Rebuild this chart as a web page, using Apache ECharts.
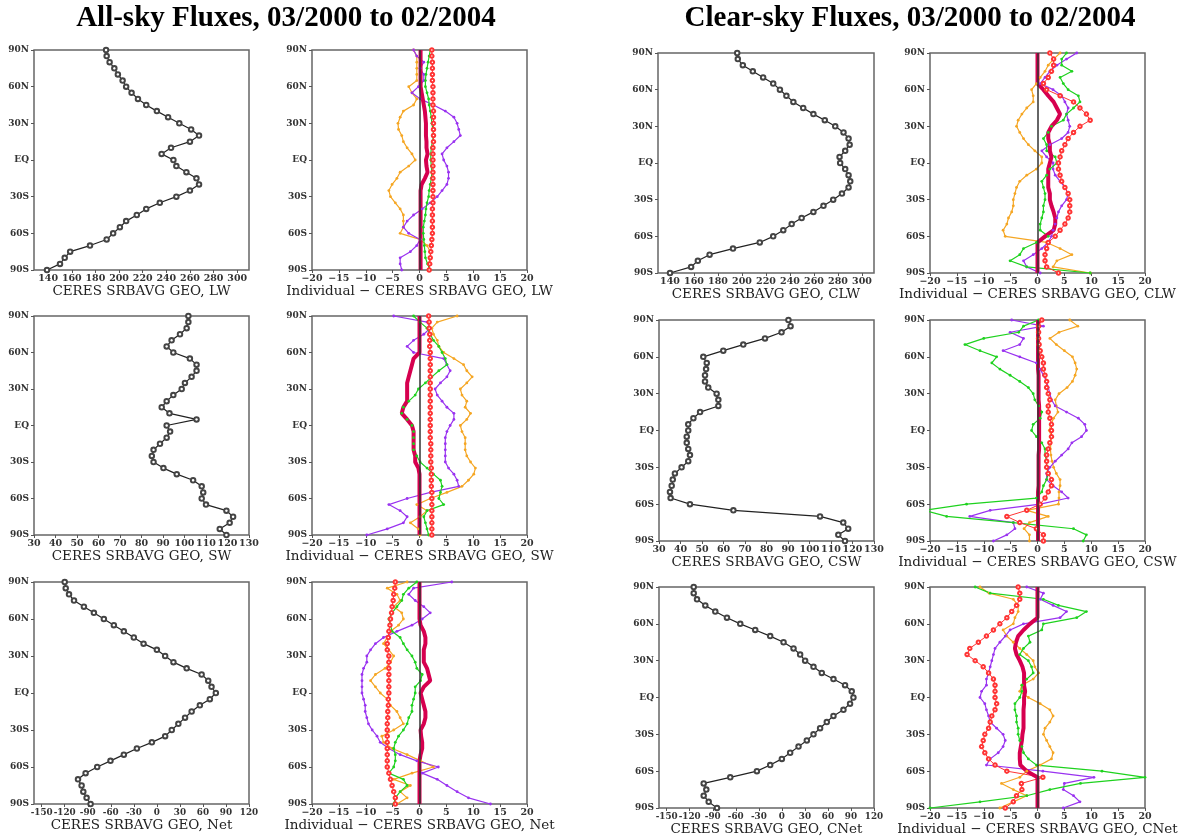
<!DOCTYPE html>
<html lang="en">
<head>
<meta charset="UTF-8">
<title>CERES SRBAVG GEO zonal fluxes</title>
<script src="https://cdn.jsdelivr.net/npm/echarts@6/dist/echarts.min.js"></script>
<style>
  html, body { margin: 0; padding: 0; background: #fff; }
  #chart { width: 1189px; height: 838px; }
</style>
</head>
<body>
<div id="chart"></div>
<script>
// latitude (north to south, 5 degree steps)
var lat = [90,85,80,75,70,65,60,55,50,45,40,35,30,25,20,15,10,5,0,-5,-10,-15,-20,-25,-30,-35,-40,-45,-50,-55,-60,-65,-70,-75,-80,-85,-90];

// tick labels
var latTicks = [-90,-60,-30,0,30,60,90];
var lwTicks = [140,160,180,200,220,240,260,280,300];
var swTicks = [30,40,50,60,70,80,90,100,110,120,130];
var netTicks = [-150,-120,-90,-60,-30,0,30,60,90,120];
var diffTicks = [-20,-15,-10,-5,0,5,10,15,20];

// CERES SRBAVG GEO zonal means (W m-2)
var lwAll  = [189,189.5,192,196,199,203,206,210.6,216,223,232,241.5,251,261,267.7,260,244,236,246,248.5,257,265.5,267.7,260,248.5,234.5,223,215,206,200.7,195,189.5,175.4,158.6,154,150,139];
var lwClr  = [196,196.5,200.7,209,217.6,226,231.6,237,242.8,251,259.5,269,277.7,284.6,288.8,289.7,286,281.3,281.8,286,288.8,290.2,288.8,283.3,276,267.9,259.5,249.7,241.4,234.4,226,214.8,192.5,173,163.2,157.6,140];
var swAll  = [101.8,101.8,101,97.9,94,91.7,94.8,102.5,105.6,105.6,103.3,100.2,98.7,94.8,91.7,89.4,93,105.6,91.7,93.3,91.7,88.6,85.6,84.8,85.6,90.2,96.4,104,108,108.7,108,110,119.5,122.6,121,116.4,119.5];
var swClr  = [90.2,91.2,87,79.3,69.2,59.9,50.6,52.2,51.9,51.4,51.4,52.9,56.8,57.6,57.6,49.1,46,43.6,43.6,42.9,42.9,43.6,44.4,43.6,40.5,37.4,36.4,35.9,35.1,35.4,44.4,64.6,104.9,115.7,118,113.4,116.5];
var netAll = [-120,-118.7,-114.4,-107.9,-95,-82,-69,-56,-43,-30,-17.3,0,10.8,21.6,38.8,58.3,66.9,71.2,76.8,69,56,45.3,36.7,28,19.4,10.8,-6.5,-26,-43,-60.4,-77.7,-92.8,-102.7,-98,-95.8,-91.5,-86.3];
var netClr = [-114.8,-114.8,-110.5,-99.7,-86.7,-71.5,-54.2,-34.7,-15.2,2.2,15.2,23.8,30.3,41.2,52,67.2,82.3,91,93.2,88.8,80.2,67.2,58.5,49.8,41.2,32.5,21.7,10.8,0,-15.2,-32.5,-67.2,-101.8,-98.4,-101.8,-95.3,-84.5];

// individual - CERES differences, all-sky
var lwOrange  = [-1.1,-0.5,-0.5,-0.5,-0.5,-0.5,-2.0,-1.4,-0.5,-1.1,-3.0,-3.6,-4.0,-3.9,-3.3,-3.0,-2.3,-1.4,-0.8,-2.0,-3.6,-4.2,-5.1,-5.7,-5.4,-4.5,-3.6,-3.0,-3.0,-3.0,-3.6,0.1,1.4,2.0,2.0,1.7,1.7];
var lwPurple  = [-1.1,-0.5,0.8,0.1,0.8,0.8,-0.2,-1.4,0.1,2.6,4.8,6.4,7.0,7.3,7.6,6.4,5.1,4.2,4.5,5.1,5.4,5.4,5.1,4.2,3.3,2.0,0.5,-1.1,-2.3,-3.0,-2.0,0.1,-0.5,-1.7,-3.6,-3.6,-3.3];
var lwGreen   = [2.0,1.8,1.6,1.4,1.2,1.1,1.1,1.4,1.7,1.8,2.0,2.2,2.3,2.5,2.6,2.4,2.2,2.1,2.1,2.2,2.3,2.2,2.0,1.8,1.7,1.4,1.2,1.1,0.9,0.7,0.7,0.8,0.9,1.0,1.1,1.5,2.0];
var lwRed     = [2.3,2.3,2.4,2.4,2.4,2.4,2.5,2.5,2.5,2.5,2.6,2.6,2.6,2.6,2.6,2.6,2.5,2.5,2.5,2.5,2.5,2.5,2.5,2.5,2.5,2.5,2.4,2.4,2.4,2.4,2.4,2.3,2.2,2.1,2.0,1.9,1.8];
var lwCrimson = [0.2,0.2,0.2,0.2,0.2,0.2,0.2,0.4,0.6,0.8,1.0,1.1,1.2,1.2,1.2,1.3,1.3,1.5,1.2,1.3,1.5,1.0,0.4,0.2,0.2,0.2,0.2,0.2,0.2,0.2,0.2,0.2,0.2,0.2,0.2,0.2,0.2];

var swOrange  = [7.0,3.3,2.3,2.6,3.3,3.6,4.5,6.4,8.2,8.8,9.8,8.8,7.6,7.9,8.8,8.5,9.5,8.8,7.6,7.9,8.5,8.5,8.5,8.8,9.5,10.4,10.1,9.1,7.9,5.1,2.0,-0.5,1.4,0.1,-1.7,-0.2,0.1];
var swPurple  = [-4.8,1.4,2.0,0.8,-1.1,-2.3,-1.1,4.5,5.1,5.7,5.1,3.9,2.9,3.3,4.2,5.1,6.4,6.4,5.7,5.1,4.8,4.8,4.8,4.8,4.8,5.4,6.4,7.0,7.3,2.0,-2.3,-5.7,-3.6,-2.3,-3.0,-6.0,-9.8];
var swGreen   = [-1.1,0.1,1.4,2.0,2.6,3.6,4.2,4.8,5.1,3.6,2.3,1.1,-0.2,-0.8,-2.0,-3.0,-3.3,-2.3,-1.4,-1.1,-1.1,-1.1,-1.1,-0.5,0.1,1.4,2.6,3.9,4.2,3.9,3.6,4.5,1.4,0.8,1.1,1.4,1.7];
var swRed     = [1.7,1.8,1.8,1.9,1.9,1.9,2.0,2.0,2.0,2.0,2.0,2.0,2.0,2.0,2.0,2.0,2.0,2.0,2.0,2.0,2.0,2.1,2.1,2.1,2.1,2.2,2.2,2.2,2.2,2.3,2.3,2.3,2.3,2.3,2.3,2.3,2.3];
var swCrimson = [0,0,0,0,0,0,0,-1.1,-1.4,-1.7,-2.0,-2.3,-2.3,-2.3,-2.3,-3.0,-3.3,-2.3,-1.4,-1.1,-1.1,-1.1,-1.1,-0.8,-0.8,-0.2,0,0,0,0,0,0,0,0,0,0,0];

var netOrange  = [-2.3,-6.0,-4.2,-3.6,-4.8,-3.3,-3.0,-3.9,-5.4,-6.0,-6.7,-5.7,-4.8,-5.4,-6.4,-8.2,-9.1,-8.2,-7.3,-6.0,-5.4,-4.2,-3.6,-3.0,-4.8,-7.0,-6.7,-5.1,-2.3,0.2,2.6,-1.4,-4.8,-1.7,-3.6,-2.3,-4.2];
var netPurple  = [6.0,-1.1,-2.0,-0.8,0.8,2.0,0.5,-1.4,-4.2,-6.7,-8.2,-9.1,-9.8,-9.8,-10.4,-10.7,-10.7,-10.7,-10.7,-10.4,-10.1,-10.1,-9.8,-9.5,-8.8,-7.9,-7.3,-5.7,-3.6,-0.5,3.5,0.5,3.3,5.1,7.0,9.1,13.2];
var netGreen   = [-0.5,-2.0,-3.0,-3.3,-4.2,-5.1,-5.7,-5.4,-5.1,-3.6,-3.0,-2.3,-1.4,-0.8,-0.5,0.5,0.2,-0.8,-0.8,-1.1,-1.4,-1.4,-2.0,-2.3,-3.0,-3.9,-4.5,-4.8,-4.5,-4.5,-4.8,-5.7,-3.0,-2.3,-3.6,-4.5,-4.8];
var netRed     = [-4.5,-4.6,-4.8,-4.9,-5.1,-5.2,-5.4,-5.5,-5.7,-5.8,-6.0,-6.0,-5.7,-5.7,-5.7,-5.7,-5.7,-5.7,-5.7,-5.8,-5.8,-5.9,-5.9,-6.0,-6.0,-6.0,-6.0,-6.0,-6.0,-6.0,-6.0,-5.7,-5.4,-5.1,-4.8,-4.5,-4.5];
var netCrimson = [0,0,0,0,0,0,0,0.2,0.8,1.1,1.1,0.8,0.8,0.8,1.4,1.7,2.0,0.8,0.2,0.5,0.8,1.1,1.1,0.8,0.2,0.3,0.5,0.5,0.2,0,0,0,0,0,0,0,0];

// individual - CERES differences, clear-sky
var clwOrange  = [4.2,3.0,2.0,1.4,0.5,-0.2,-1.1,-0.8,-0.8,-2.0,-2.9,-3.6,-3.9,-3.3,-2.6,-1.7,-0.5,0.8,0.8,-0.2,-2.0,-3.3,-3.9,-4.2,-4.5,-4.5,-4.8,-5.4,-5.7,-6.4,-6.0,1.7,4.2,6.4,3.6,2.9,9.8];
var clwPurple  = [7.3,5.4,3.6,2.3,1.4,0.5,2.9,4.5,5.1,5.7,5.4,5.7,6.0,5.7,4.5,2.3,0.8,1.7,2.9,2.9,3.3,4.2,5.1,5.7,5.4,4.5,3.9,3.6,3.3,2.9,2.6,2.0,0.8,-0.8,-2.6,-2.0,0.5];
var clwGreen   = [5.4,4.5,4.5,6.4,4.2,4.8,5.7,7.6,7.9,6.7,5.4,4.8,2.6,2.0,1.1,1.7,1.7,3.3,3.6,2.3,1.7,0.8,1.1,1.4,1.4,1.1,1.1,0.8,0.5,0.5,2.0,-0.2,-2.6,-3.3,-5.1,-2.0,9.8];
var clwRed     = [2.3,3.0,3.0,2.6,2.0,1.1,1.7,4.2,6.7,7.9,9.1,9.8,7.9,6.7,5.7,5.1,4.5,4.2,3.9,3.9,4.2,4.5,5.1,5.7,6.0,6.0,6.0,5.7,5.1,4.2,3.3,2.0,1.7,1.4,1.4,1.7,3.9];
var clwCrimson = [0,0,0,0,0,0,1.1,2.0,3.0,3.6,4.2,3.6,2.6,2.0,2.0,2.3,2.3,2.6,2.3,2.0,2.0,2.0,2.0,2.3,2.3,2.6,3.0,3.3,3.3,3.0,1.4,0,0,0,0,0,0];

var cswOrange  = [6.0,7.5,4.0,2.3,3.5,5.0,6.5,7.0,7.3,7.0,6.5,5.5,4.0,3.3,3.5,3.8,3.0,2.5,2.2,2.6,2.5,2.4,2.5,2.7,3.0,3.5,4.2,4.2,4.0,4.0,3.9,-2.0,2.0,-1.5,-2.5,-1.5,-1.5];
var cswPurple  = [-4.8,1.1,-5.1,-2.6,-3.3,-6.4,-3.3,-0.2,0.5,1.1,1.7,2.0,2.3,2.6,3.3,5.4,7.6,8.8,9.1,8.2,6.4,5.7,4.5,3.3,2.3,1.7,1.7,2.9,4.5,5.7,0.5,-8.8,-12.6,-4.5,-4.2,-5.7,-8.2];
var cswGreen   = [0.2,-2.6,-3.5,-10,-13.5,-10.7,-7.6,-8.5,-7.0,-5.1,-3.3,-1.7,-0.8,-0.5,0.2,0.8,0.5,-0.8,-1.1,-0.2,0.8,1.4,1.4,1.7,1.7,2.0,1.7,1.1,0.8,-0.2,-13.2,-21,-16.9,-4.5,6.7,9.1,8.5];
var cswRed     = [0.8,0.2,0.2,0.2,0.3,0.5,0.8,1.1,1.1,1.4,1.7,1.7,2.0,2.3,2.0,2.0,2.3,2.6,2.6,2.6,2.3,2.0,1.7,1.7,1.7,2.0,2.6,2.6,2.0,1.4,0.5,-2.0,-5.7,-3.3,-0.2,1.1,1.1];
var cswCrimson = [0.1,0.1,0.1,0.1,0.1,0.1,0.1,0.1,0.1,0.2,0.2,0.2,0.2,0.2,0.3,0.3,0.3,0.3,0.3,0.3,0.3,0.3,0.2,0.2,0.2,0.2,0.2,0.2,0.1,0.1,0.1,0.1,0.1,0.1,0.1,0.1,0.1];

var cnetOrange  = [-10.7,-9.0,-4.5,-3.6,-3.6,-4.2,-4.5,-6.4,-5.7,-4.5,-3.3,-2.0,-0.8,-0.5,0.2,-0.8,-2.9,-3.3,-1.7,0.5,2.3,2.9,2.3,1.4,1.1,1.7,2.3,2.9,2.6,0.5,-2.0,-3.3,-6.7,-4.5,-2.0,-4.5,-7.0];
var cnetPurple  = [-2.0,1.1,0.5,2.9,5.4,4.2,-2.6,-5.1,-6.0,-7.0,-7.9,-8.2,-8.5,-8.8,-9.1,-9.5,-9.5,-10.4,-10.7,-9.8,-9.5,-9.1,-8.8,-7.6,-6.4,-6.0,-6.4,-7.3,-8.8,-9.5,1.0,10.5,5.0,4.8,6.7,7.9,4.8];
var cnetGreen   = [-11.6,-8.8,1.1,3.9,9.1,7.3,1.1,0.8,-1.7,-1.4,-2.6,-3.3,-1.7,-1.1,-0.8,-2.0,-2.9,-2.9,-3.3,-4.2,-4.2,-3.9,-3.9,-3.6,-3.6,-3.3,-2.9,-2.6,-1.7,-0.2,12,20,8,2.3,-2.0,-10.7,-20];
var cnetRed     = [-3.6,-3.3,-3.3,-3.9,-4.8,-5.7,-7.0,-8.2,-9.5,-11,-12.6,-13.1,-11.6,-10.1,-9.1,-8.2,-7.9,-7.9,-7.9,-7.6,-7.9,-8.5,-8.8,-9.1,-9.8,-10.1,-10.4,-9.8,-9.1,-7.9,-5.7,1.0,-3.0,-2.9,-3.9,-4.5,-6.0];
var cnetCrimson = [0,0,0,0,0,0,-1.4,-2.6,-3.6,-4.0,-4.2,-3.9,-3.3,-2.8,-2.5,-2.5,-2.5,-2.3,-2.5,-2.5,-2.6,-2.6,-2.6,-2.6,-2.8,-2.9,-3.1,-3.3,-3.3,-3.2,-2.0,0,0,0,0,0,0];

var serif = '"DejaVu Serif", serif';
var colors = ['#f5a623', '#9932f0', '#1ed21e', '#ff3434', '#d6004f'];

function latLabel(v) {
    if (v === 0) return 'EQ';
    return v > 0 ? v + 'N' : (-v) + 'S';
}
function minus(v) {
    return String(v).replace('-', '\u2212');
}
function hyphen(v) {
    return String(v);
}

var panels = [
    {box: [34, 50, 215, 220],  main: lwAll,  ticks: lwTicks,  min: 128, max: 310, name: 'CERES SRBAVG GEO, LW'},
    {box: [312, 50, 215, 220], diff: [lwOrange, lwPurple, lwGreen, lwRed, lwCrimson], name: 'Individual \u2212 CERES SRBAVG GEO, LW'},
    {box: [658, 53, 216, 220], main: lwClr,  ticks: lwTicks,  min: 130, max: 310, name: 'CERES SRBAVG GEO, CLW'},
    {box: [930, 53, 215, 220], diff: [clwOrange, clwPurple, clwGreen, clwRed, clwCrimson], name: 'Individual \u2212 CERES SRBAVG GEO, CLW'},
    {box: [34, 316, 215, 219], main: swAll,  ticks: swTicks,  min: 30, max: 130, name: 'CERES SRBAVG GEO, SW'},
    {box: [312, 316, 215, 219], diff: [swOrange, swPurple, swGreen, swRed, swCrimson], name: 'Individual \u2212 CERES SRBAVG GEO, SW'},
    {box: [659, 320, 215, 221], main: swClr, ticks: swTicks,  min: 30, max: 130, name: 'CERES SRBAVG GEO, CSW'},
    {box: [930, 320, 215, 221], diff: [cswOrange, cswPurple, cswGreen, cswRed, cswCrimson], name: 'Individual \u2212 CERES SRBAVG GEO, CSW'},
    {box: [34, 582, 215, 222], main: netAll, ticks: netTicks, min: -160, max: 120, name: 'CERES SRBAVG GEO, Net', tight: true},
    {box: [312, 582, 215, 222], diff: [netOrange, netPurple, netGreen, netRed, netCrimson], name: 'Individual \u2212 CERES SRBAVG GEO, Net'},
    {box: [659, 587, 215, 221], main: netClr, ticks: netTicks, min: -160, max: 120, name: 'CERES SRBAVG GEO, CNet', tight: true},
    {box: [930, 587, 215, 221], diff: [cnetOrange, cnetPurple, cnetGreen, cnetRed, cnetCrimson], name: 'Individual \u2212 CERES SRBAVG GEO, CNet'}
];

function pairs(vals) {
    return lat.map(function (y, k) { return [vals[k], y]; });
}

var grids = [], xAxes = [], yAxes = [], series = [];

panels.forEach(function (p, i) {
    grids.push({
        left: p.box[0], top: p.box[1], width: p.box[2], height: p.box[3],
        show: true, borderColor: '#666', borderWidth: 1.5
    });
    var ticks = p.main ? p.ticks : diffTicks;
    xAxes.push({
        gridIndex: i, type: 'value', position: 'bottom',
        min: p.main ? p.min : -20, max: p.main ? p.max : 20,
        name: p.name, nameLocation: 'middle', nameGap: 14,
        nameTextStyle: {fontFamily: serif, fontSize: 13.5, color: '#222'},
        axisLine: {show: false, onZero: false},
        splitLine: {show: false},
        axisTick: {show: true, length: 3, customValues: ticks, lineStyle: {color: '#555'}},
        axisLabel: {customValues: ticks, interval: 0, margin: 4,
            formatter: p.tight ? hyphen : minus,
            showMinLabel: true, showMaxLabel: true, hideOverlap: false,
            fontFamily: serif, fontSize: p.tight ? 8.8 : 9.5, fontWeight: 'bold', color: '#333'}
    });
    yAxes.push({
        gridIndex: i, type: 'value', position: 'left', min: -90, max: 90, interval: 30,
        axisLine: {show: false, onZero: false},
        splitLine: {show: false},
        axisTick: {show: true, length: 3, lineStyle: {color: '#555'}},
        axisLabel: {formatter: latLabel, margin: 5,
            fontFamily: serif, fontSize: 9, fontWeight: 'bold', color: '#333'}
    });

    if (p.main) {
        series.push({
            type: 'line', xAxisIndex: i, yAxisIndex: i,
            data: pairs(p.main),
            symbol: 'emptyCircle', symbolSize: 4.5,
            lineStyle: {color: '#222', width: 1.2},
            itemStyle: {color: '#444', borderWidth: 1}
        });
    } else {
        p.diff.forEach(function (vals, s) {
            var ser = {
                type: 'line', xAxisIndex: i, yAxisIndex: i,
                data: pairs(vals),
                lineStyle: {color: colors[s], width: 1.2},
                itemStyle: {color: colors[s]},
                symbol: 'circle', symbolSize: 2.8
            };
            if (s === 0) {
                ser.markLine = {
                    silent: true, symbol: ['none', 'none'], label: {show: false},
                    lineStyle: {color: '#333', width: 1.5, type: 'solid'},
                    data: [{xAxis: 0}]
                };
            }
            if (s === 3) {
                ser.symbol = 'emptyCircle';
                ser.symbolSize = 3.5;
                ser.lineStyle.width = 1;
                ser.itemStyle.borderWidth = 1;
            }
            if (s === 4) {
                ser.symbol = 'none';
                ser.lineStyle.width = 4;
            }
            series.push(ser);
        });
    }
});

var chart = echarts.init(document.getElementById('chart'));
chart.setOption({
    animation: false,
    backgroundColor: '#fff',
    graphic: [
        {type: 'text', x: 286, y: 19, style: {text: 'All-sky Fluxes, 03/2000 to 02/2004',
            font: 'bold 29px "Liberation Serif", serif', fill: '#000', textAlign: 'center', textVerticalAlign: 'middle'}},
        {type: 'text', x: 910, y: 19, style: {text: 'Clear-sky Fluxes, 03/2000 to 02/2004',
            font: 'bold 29px "Liberation Serif", serif', fill: '#000', textAlign: 'center', textVerticalAlign: 'middle'}}
    ],
    grid: grids,
    xAxis: xAxes,
    yAxis: yAxes,
    series: series
});
</script>
</body>
</html>
